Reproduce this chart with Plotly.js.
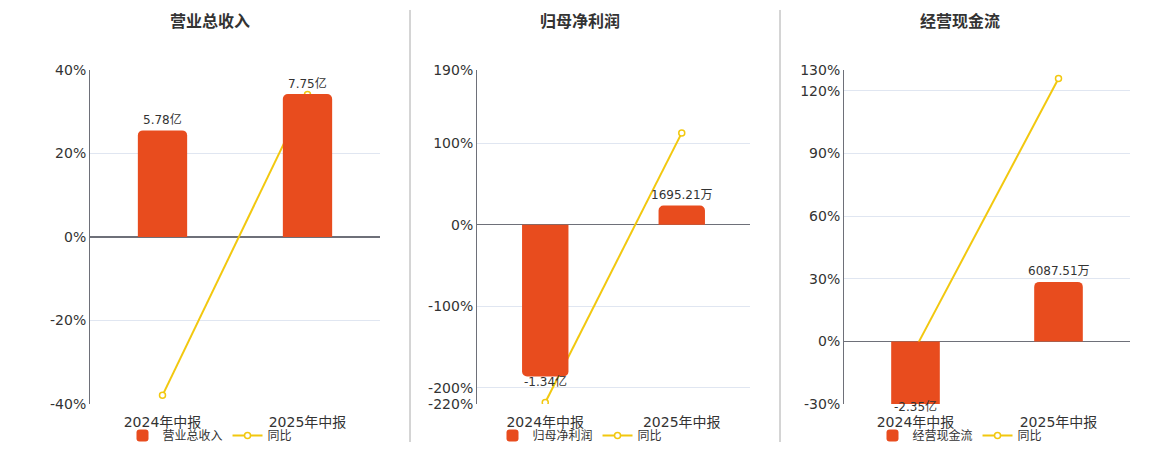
<!DOCTYPE html>
<html>
<head>
<meta charset="utf-8">
<script src="https://cdn.plot.ly/plotly-3.0.1.min.js"></script>
<style>
  html, body { margin: 0; padding: 0; background: #fff; }
  #chart { width: 1160px; height: 450px; }
</style>
</head>
<body>
<div id="chart"></div>
<script>
// Reporting periods
const periods = ['2024年中报', '2025年中报'];

// Chart titles / series names
const titles = ['营业总收入', '归母净利润', '经营现金流'];

// Bar values (亿元)
const revenue = [5.78, 7.75];
const netProfit = [-1.34, 0.169521];
const cashFlow = [-2.35, 0.608751];

// Bar labels
const revenueLabels = ['5.78亿', '7.75亿'];
const netProfitLabels = ['-1.34亿', '1695.21万'];
const cashFlowLabels = ['-2.35亿', '6087.51万'];

// Year-on-year change (%)
const revenueYoY = [-37.9, 34.08];
const netProfitYoY = [-218, 112.65];
const cashFlowYoY = [-3.2, 125.9];

// Left axis ticks (%)
const revenueTicks = [-40, -20, 0, 20, 40];
const netProfitTicks = [-220, -200, -100, 0, 100, 190];
const cashFlowTicks = [-30, 0, 30, 60, 90, 120, 130];

const BAR_COLOR = '#E84C1E';
const LINE_COLOR = '#F2C80F';
const FONT = 'DejaVu Sans, Noto Sans CJK SC, sans-serif';

// Panel geometry (paper fractions) and bar-axis scale (亿 per %)
const panels = [
    { title: titles[0], bars: revenue, labels: revenueLabels, yoy: revenueYoY, ticks: revenueTicks,
      pctRange: [-40, 40], k: 0.2266, xDomain: [90 / 1160, 380 / 1160], center: 210 / 1160 },
    { title: titles[1], bars: netProfit, labels: netProfitLabels, yoy: netProfitYoY, ticks: netProfitTicks,
      pctRange: [-220, 190], k: 0.0072, xDomain: [477 / 1160, 750 / 1160], center: 580 / 1160 },
    { title: titles[2], bars: cashFlow, labels: cashFlowLabels, yoy: cashFlowYoY, ticks: cashFlowTicks,
      pctRange: [-30, 130], k: 0.02136, xDomain: [844 / 1160, 1130 / 1160], center: 960 / 1160 }
];

const yDomain = [1 - 405 / 450, 1 - 70 / 450];

const traces = [];
const annotations = [];
const layout = {
    width: 1160,
    height: 450,
    margin: { l: 0, r: 0, t: 0, b: 0 },
    paper_bgcolor: '#fff',
    plot_bgcolor: 'rgba(0,0,0,0)',
    font: { family: FONT, color: '#333', size: 12 },
    barcornerradius: 5,
    shapes: [410, 780].map(px => ({
        type: 'line', xref: 'paper', yref: 'paper',
        x0: px / 1160, x1: px / 1160, y0: 1 - 443 / 450, y1: 1 - 10 / 450,
        line: { color: '#aaa', width: 1 }
    })),
    annotations: annotations
};

panels.forEach((p, i) => {
    const xName = i === 0 ? 'x' : 'x' + (i + 1);
    const pctName = 'y' + (2 * i + 1);
    const barName = 'y' + (2 * i + 2);
    const xKey = i === 0 ? 'xaxis' : 'xaxis' + (i + 1);
    const pctKey = 'yaxis' + (2 * i + 1 === 1 ? '' : 2 * i + 1);
    const barKey = 'yaxis' + (2 * i + 2);
    const legendName = i === 0 ? 'legend' : 'legend' + (i + 1);
    const barRange = [p.pctRange[0] * p.k, p.pctRange[1] * p.k];

    traces.push({
        type: 'bar',
        name: p.title,
        x: periods,
        y: p.bars,
        width: 0.34,
        marker: { color: BAR_COLOR },
        xaxis: xName,
        yaxis: barName,
        legend: legendName,
        hoverinfo: 'skip'
    });
    traces.push({
        type: 'scatter',
        mode: 'lines+markers',
        name: '同比',
        x: periods,
        y: p.yoy,
        line: { color: LINE_COLOR, width: 2 },
        marker: { symbol: 'circle', size: 6, color: '#fff', line: { color: LINE_COLOR, width: 1.5 } },
        xaxis: xName,
        yaxis: pctName,
        legend: legendName,
        hoverinfo: 'skip'
    });

    layout[xKey] = {
        domain: p.xDomain,
        anchor: pctName,
        type: 'category',
        range: [-0.5, 1.5],
        showgrid: false,
        showline: false,
        ticks: '',
        ticklabelstandoff: 8,
        tickfont: { size: 14, color: '#333' },
        fixedrange: true
    };
    layout[pctKey] = {
        domain: yDomain,
        anchor: xName,
        range: p.pctRange,
        tickvals: p.ticks,
        ticktext: p.ticks.map(v => v + '%'),
        tickfont: { size: 14, color: '#333' },
        showgrid: true,
        gridcolor: '#E0E6F1',
        gridwidth: 1,
        showline: true,
        linecolor: '#6E7079',
        linewidth: 1,
        zeroline: true,
        zerolinecolor: '#6E7079',
        zerolinewidth: 1.5,
        ticks: '',
        fixedrange: true
    };
    layout[barKey] = {
        overlaying: pctName,
        anchor: xName,
        range: barRange,
        visible: false,
        showgrid: false,
        zeroline: false,
        fixedrange: true
    };
    layout[legendName] = {
        orientation: 'h',
        x: p.center,
        xanchor: 'center',
        y: 14 / 450,
        yanchor: 'middle',
        font: { size: 12, color: '#333' },
        bgcolor: 'rgba(0,0,0,0)',
        itemclick: false,
        itemdoubleclick: false
    };

    // panel title
    annotations.push({
        xref: 'paper', yref: 'paper',
        x: p.center, y: 1 - 22 / 450,
        xanchor: 'center', yanchor: 'middle',
        text: '<b>' + p.title + '</b>',
        showarrow: false,
        font: { size: 16, color: '#333' }
    });

    // bar value labels, kept inside the plot when the bar is clipped
    p.bars.forEach((v, j) => {
        const clipped = v < barRange[0];
        const yPos = Math.max(barRange[0], Math.min(barRange[1], v));
        annotations.push({
            xref: xName, yref: barName,
            x: periods[j], y: yPos,
            text: p.labels[j],
            showarrow: false,
            yanchor: 'middle',
            yshift: v >= 0 ? 11 : (clipped ? -2 : -5),
            font: { size: 12, color: '#333' }
        });
    });
});

Plotly.newPlot('chart', traces, layout, { displayModeBar: false, staticPlot: true });
</script>
</body>
</html>
